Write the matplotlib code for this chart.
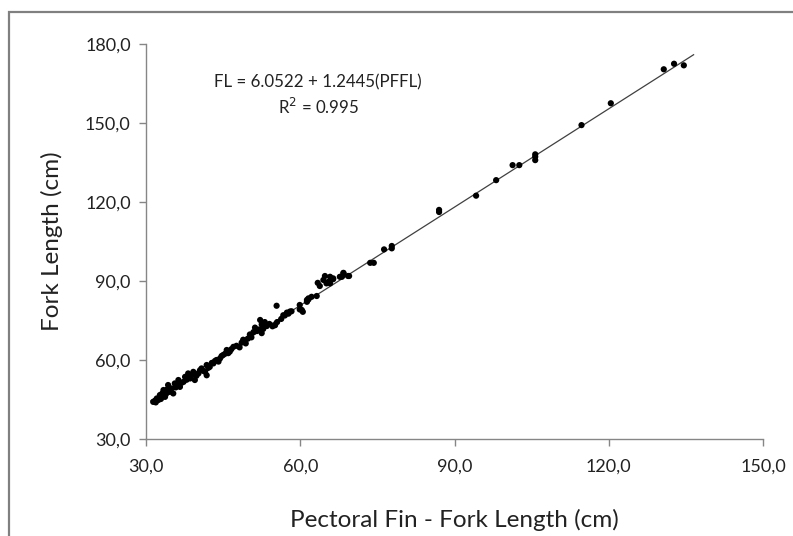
import matplotlib
matplotlib.use("Agg")
import matplotlib.pyplot as plt
from matplotlib.patches import Rectangle
from matplotlib.ticker import FuncFormatter

plt.rcParams['font.family'] = ['Lato', 'DejaVu Sans']

# Pectoral fin - fork length (cm)
pffl = [
    31.4, 31.8, 31.9, 32.1, 32.4, 32.7, 32.9, 33.2, 33.4, 33.7, 33.9, 34.1, 34.3, 34.6,
    35.0, 35.3, 35.6, 35.8, 36.0, 36.3, 36.6, 36.9, 37.3, 37.6, 37.9, 38.2, 38.6, 38.9,
    39.2, 39.5, 39.8, 40.2, 40.5, 40.8, 41.1, 41.5, 41.8, 41.8, 42.1, 42.4, 42.8, 43.1,
    43.4, 43.7, 44.1, 44.4, 44.7, 45.0, 45.4, 45.7, 46.0, 46.3, 46.6, 47.0,
    47.6, 48.2, 48.6, 48.9, 49.4, 49.8, 50.2, 50.5, 50.9, 51.2, 51.6, 52.0, 52.2, 52.5,
    52.5, 52.8, 53.1, 53.5, 54.0, 54.6, 55.1, 55.5, 55.4, 56.3, 56.7, 57.0, 57.4, 57.7,
    58.0, 58.3,
    59.9, 60.3, 60.5, 59.9, 61.3, 61.3, 61.6, 61.6, 62.2, 63.2, 63.4, 63.8, 64.5, 64.8,
    65.1, 65.5, 65.8, 65.8, 66.4, 66.4, 67.7, 68.1, 68.4, 68.4, 69.3, 69.5,
    73.6, 74.3, 76.3, 77.8, 77.8, 87.0, 87.0, 94.2, 98.1, 101.3, 102.6, 105.7, 105.7,
    105.7, 114.7, 120.4, 130.7, 132.7, 134.6,
]
# Fork length (cm)
fl = [
    44.1, 44.6, 43.9, 45.4, 44.8, 46.7, 45.2, 47.4, 48.6, 46.0, 47.1, 48.8, 50.5, 47.9,
    49.2, 47.3, 51.1, 49.6, 50.8, 52.4, 49.8, 51.3, 51.7, 53.6, 52.5, 54.9, 53.0, 54.2,
    55.5, 52.4, 54.0, 54.9, 56.1, 56.8, 55.9, 55.5, 58.1, 54.2, 57.0, 57.4, 58.9, 58.7,
    59.6, 60.0, 59.4, 60.6, 61.5, 61.9, 62.4, 63.8, 62.6, 63.2, 64.1, 65.0,
    65.4, 64.8, 66.6, 67.7, 66.3, 68.1, 69.7, 68.6, 70.6, 72.3, 71.0, 71.6, 75.2, 73.5,
    70.2, 71.8, 74.4, 72.9, 73.7, 72.8, 73.2, 74.4, 80.6, 75.6, 77.0, 76.9, 78.0, 77.6,
    78.4, 78.5,
    79.2, 79.0, 78.3, 80.9, 82.1, 82.8, 83.0, 83.4, 84.0, 84.3, 89.3, 88.1, 90.4, 91.9,
    89.1, 89.7, 91.6, 89.1, 91.0, 90.7, 91.6, 91.6, 93.1, 92.9, 91.9, 91.9,
    96.9, 96.9, 102.0, 103.3, 102.4, 117.0, 116.2, 122.4, 128.3, 134.0, 134.0, 138.1, 137.2,
    135.9, 149.2, 157.5, 170.4, 172.5, 171.9,
]

intercept = 6.0522
slope = 1.2445
fit_x = [31.0, 136.5]

xticks = [30, 60, 90, 120, 150]
yticks = [30, 60, 90, 120, 150, 180]

fig = plt.figure(figsize=(7.93, 5.36), dpi=100)
fig.patch.set_facecolor('white')

# outer chart-area border
fig.patches.append(Rectangle((9/793, -0.05), 1.2, 1 - 12/536 + 0.05,
                             transform=fig.transFigure, fill=False,
                             edgecolor='#808080', linewidth=1.6, zorder=0))

ax = fig.add_axes([146/793, 1 - 439/536, (763 - 146)/793, (439 - 44)/536])
ax.set_xlim(30, 150)
ax.set_ylim(30, 180)

fit_y = [intercept + slope * v for v in fit_x]
ax.plot(fit_x, fit_y, color='#404040', linewidth=0.9, zorder=2)
ax.scatter(pffl, fl, s=20, color='black', edgecolors='none', zorder=3)

ax.set_xticks(xticks)
ax.set_yticks(yticks)
fmt = FuncFormatter(lambda v, p: f"{v:.1f}".replace('.', ','))
ax.xaxis.set_major_formatter(fmt)
ax.yaxis.set_major_formatter(fmt)

for s in ['top', 'right']:
    ax.spines[s].set_visible(False)
for s in ['left', 'bottom']:
    ax.spines[s].set_color('#868686')
    ax.spines[s].set_linewidth(1.0)
ax.tick_params(axis='both', direction='out', length=5, width=1.0, color='#868686',
               labelsize=13, labelcolor='#222222')
ax.tick_params(axis='x', pad=9)
ax.tick_params(axis='y', pad=6)

ax.set_xlabel('Pectoral Fin - Fork Length (cm)', fontsize=17.5, color='#222222', labelpad=25)
ax.set_ylabel('Fork Length (cm)', fontsize=17.5, color='#222222', labelpad=16)

ax.text(63.5, 165.5, 'FL = 6.0522 + 1.2445(PFFL)', fontsize=12.2, ha='center', va='center',
        color='#222222')
ax.text(63.5, 156.0, 'R$^2$ = 0.995', fontsize=12.2, ha='center', va='center', color='#222222')

fig.savefig('out.png', dpi=100)
